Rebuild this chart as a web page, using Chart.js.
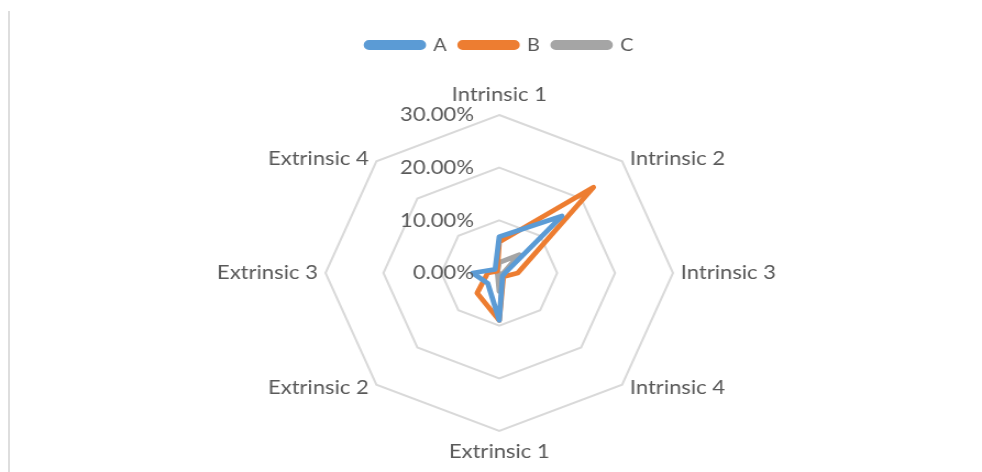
<!DOCTYPE html>
<html>
<head>
<meta charset="utf-8">
<script src="https://cdn.jsdelivr.net/npm/chart.js@4.4.1/dist/chart.umd.min.js"></script>
<style>
  body { margin: 0; background: #fff; }
  #wrap { position: relative; width: 982px; height: 472px; }
  #edge { position: absolute; left: 8px; top: 11px; width: 2px; height: 461px; background: #dedede; }
</style>
</head>
<body>
<div id="wrap">
  <div id="edge"></div>
  <!-- the reference is stretched sideways, so the canvas is drawn narrower and widened -->
  <canvas id="myChart" width="893" height="472" style="width:982px;height:472px;display:block"></canvas>
</div>
<script>
const categories = ['Intrinsic 1', 'Intrinsic 2', 'Intrinsic 3', 'Intrinsic 4', 'Extrinsic 1', 'Extrinsic 2', 'Extrinsic 3', 'Extrinsic 4'];
const seriesA = [0.069, 0.153, 0.01, 0.008, 0.09, 0.028, 0.046, 0.01];
const seriesB = [0.059, 0.23, 0.032, 0.01, 0.09, 0.054, 0.02, 0.005];
const seriesC = [0.02, 0.049, 0.007, 0.003, 0.035, 0.004, 0.004, 0.004];
const tickValues = [0, 0.1, 0.2, 0.3];

const textColor = '#595959';
const fontFamily = 'Lato, "Open Sans", sans-serif';

// Excel puts the axis numbers left of the vertical spoke
const tickLabels = {
    id: 'tickLabels',
    afterDatasetsDraw(chart) {
        const scale = chart.scales.r;
        const ctx = chart.ctx;
        ctx.save();
        ctx.font = '20px ' + fontFamily;
        ctx.fillStyle = textColor;
        ctx.textAlign = 'right';
        ctx.textBaseline = 'middle';
        tickValues.forEach(v => {
            const y = scale.yCenter - scale.getDistanceFromCenterForValue(v);
            ctx.fillText((v * 100).toFixed(2) + '%', scale.xCenter - 23, y);
        });
        ctx.restore();
    }
};

// category names placed next to the outer ring corners, Excel style
const categoryLabels = {
    id: 'categoryLabels',
    afterDraw(chart) {
        const scale = chart.scales.r;
        const ctx = chart.ctx;
        ctx.save();
        ctx.font = '20px ' + fontFamily;
        ctx.fillStyle = textColor;
        ctx.textBaseline = 'middle';
        categories.forEach((name, i) => {
            const p = scale.getPointPosition(i, scale.drawingArea);
            let x = p.x, y = p.y;
            if (i === 0) { ctx.textAlign = 'center'; y -= 20; }
            else if (i === 4) { ctx.textAlign = 'center'; y += 21; }
            else if (i < 4) { ctx.textAlign = 'left'; x += 7; }
            else { ctx.textAlign = 'right'; x -= 7; }
            if (i === 1 || i === 7) y -= 3;
            if (i === 3 || i === 5) y += 3;
            ctx.fillText(name, x, y);
        });
        ctx.restore();
    }
};

const legendHeight = {
    id: 'legendHeight',
    beforeInit(chart) {
        const fit = chart.legend.fit;
        chart.legend.fit = function () {
            fit.bind(chart.legend)();
            this.height = 91;
        };
    }
};

function line(label, data, color) {
    return {
        label: label,
        data: data,
        borderColor: color,
        backgroundColor: color,
        fill: false,
        borderWidth: 4.8,
        pointRadius: 0,
        pointHoverRadius: 0,
        borderJoinStyle: 'round',
        borderCapStyle: 'round'
    };
}

const ctx = document.getElementById('myChart').getContext('2d');
new Chart(ctx, {
    type: 'radar',
    data: {
        labels: categories,
        datasets: [
            line('A', seriesA, '#5B9BD5'),
            line('B', seriesB, '#ED7D31'),
            line('C', seriesC, '#A5A5A5')
        ]
    },
    options: {
        responsive: false,
        devicePixelRatio: 1,
        animation: false,
        layout: { padding: { top: 24, left: 16, right: 0, bottom: 41 } },
        plugins: {
            legend: {
                position: 'top',
                labels: {
                    boxWidth: 52,
                    boxHeight: 5,
                    useBorderRadius: true,
                    borderRadius: 2.5,
                    padding: 12,
                    color: textColor,
                    font: { family: fontFamily, size: 18 }
                }
            },
            tooltip: { enabled: false }
        },
        scales: {
            r: {
                min: 0,
                max: 0.3,
                ticks: { stepSize: 0.1, display: false },
                grid: { color: '#d9d9d9', lineWidth: 2 },
                angleLines: { display: false },
                pointLabels: { display: false }
            }
        }
    },
    plugins: [tickLabels, categoryLabels, legendHeight]
});
</script>
</body>
</html>
